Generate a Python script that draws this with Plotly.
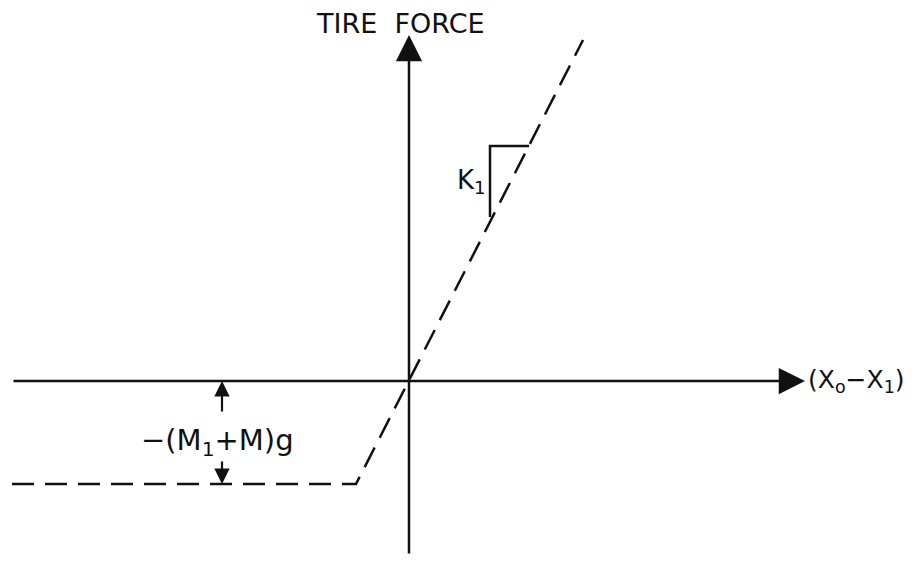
import plotly.graph_objects as go

# --- data (diagram units: origin at axes crossing) ---
# Tire force vs. relative displacement (X0 - X1): piecewise-linear characteristic
disp = [-3.97, -0.53, 1.74]          # (X0 - X1)
force = [-1.03, -1.03, 3.41]         # tire force
# axis extents
x_axis_span = [-3.97, 3.96]
y_axis_span = [-1.74, 3.46]
# slope triangle K1
k_tri_x = [0.81, 0.81, 1.20]
k_tri_y = [1.64, 2.35, 2.35]
# weight offset marker -(M1+M)g
w_x = -1.87
w_level = -1.03
w_text_y = -0.61

# page has an 8px body margin: figure spans page pixels 8..916 / 8..563
x_range = [-4.01, 5.07]
y_range = [-1.82, 3.73]

INK = "#111111"
FONT = "DejaVu Sans"

fig = go.Figure()

# dashed tire force characteristic
fig.add_trace(go.Scatter(x=disp, y=force, mode="lines",
                         line=dict(color=INK, width=2.5, dash="22px,11px"),
                         hoverinfo="skip", showlegend=False))
# slope triangle
fig.add_trace(go.Scatter(x=k_tri_x, y=k_tri_y, mode="lines",
                         line=dict(color=INK, width=2.5),
                         hoverinfo="skip", showlegend=False))

annotations = []
# horizontal axis with arrow
annotations.append(dict(x=x_axis_span[1], y=0, ax=x_axis_span[0], ay=0,
                        xref="x", yref="y", axref="x", ayref="y",
                        showarrow=True, arrowhead=2, arrowsize=2.1, arrowwidth=2.5,
                        arrowcolor=INK, text=""))
# vertical axis with arrow
annotations.append(dict(x=0, y=y_axis_span[1], ax=0, ay=y_axis_span[0],
                        xref="x", yref="y", axref="x", ayref="y",
                        showarrow=True, arrowhead=2, arrowsize=2.1, arrowwidth=2.5,
                        arrowcolor=INK, text=""))
# weight marker arrows
annotations.append(dict(x=w_x, y=0, ax=w_x, ay=w_text_y + 0.29,
                        xref="x", yref="y", axref="x", ayref="y",
                        showarrow=True, arrowhead=2, arrowsize=1.4, arrowwidth=2.2,
                        arrowcolor=INK, text=""))
annotations.append(dict(x=w_x, y=w_level, ax=w_x, ay=w_text_y - 0.18,
                        xref="x", yref="y", axref="x", ayref="y",
                        showarrow=True, arrowhead=2, arrowsize=1.4, arrowwidth=2.2,
                        arrowcolor=INK, text=""))
# labels
annotations.append(dict(x=-0.09, y=3.58, xref="x", yref="y",
                        text="TIRE  FORCE", showarrow=False,
                        font=dict(family=FONT, size=27, color=INK)))
annotations.append(dict(x=3.97, y=0, xref="x", yref="y", xanchor="left",
                        text="(X<sub>o</sub>−X<sub>1</sub>)", showarrow=False,
                        font=dict(family=FONT, size=25, color=INK)))
annotations.append(dict(x=-1.92, y=w_text_y, xref="x", yref="y",
                        text="−(M<sub>1</sub>+M)g", showarrow=False,
                        font=dict(family=FONT, size=29, color=INK)))
annotations.append(dict(x=0.79, y=2.0, xref="x", yref="y", xanchor="right",
                        text="K<sub>1</sub>", showarrow=False,
                        font=dict(family=FONT, size=26, color=INK)))

fig.update_layout(
    width=908, height=555,
    margin=dict(l=0, r=0, t=0, b=0),
    paper_bgcolor="white", plot_bgcolor="white",
    xaxis=dict(range=x_range, visible=False, fixedrange=True),
    yaxis=dict(range=y_range, visible=False, fixedrange=True),
    annotations=annotations,
    showlegend=False,
)

fig.write_html("out.html")
